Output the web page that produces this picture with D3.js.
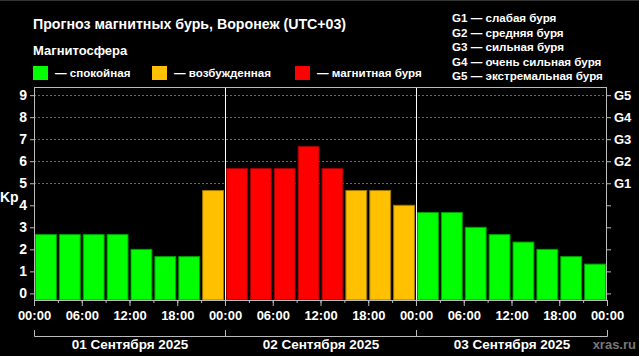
<!DOCTYPE html>
<html><head><meta charset="utf-8">
<script src="https://cdn.jsdelivr.net/npm/d3@7"></script>
<style>
html,body{margin:0;padding:0;background:#000;}
svg{display:block;}
text{font-family:"Liberation Sans",Arial,sans-serif;font-weight:bold;fill:#fff;}
</style></head><body>
<svg id="c" width="639" height="356"></svg>
<script>
const title = "Прогноз магнитных бурь, Воронеж (UTC+03)";
const legendTitle = "Магнитосфера";
const legendLabels = ["— спокойная", "— возбужденная", "— магнитная буря"];
const legendColors = ["#00ff00", "#ffc000", "#ff0000"];
const gLabels = ["G1 — слабая буря", "G2 — средняя буря", "G3 — сильная буря", "G4 — очень сильная буря", "G5 — экстремальная буря"];
const days = ["01 Сентября 2025", "02 Сентября 2025", "03 Сентября 2025"];
const kpValues = [2.67, 2.67, 2.67, 2.67, 2.0, 1.67, 1.67, 4.67,
                  5.67, 5.67, 5.67, 6.67, 5.67, 4.67, 4.67, 4.0,
                  3.67, 3.67, 3.0, 2.67, 2.33, 2.0, 1.67, 1.33];
const yTicks = [0,1,2,3,4,5,6,7,8,9];
const gTicks = ["G1","G2","G3","G4","G5"];

const svg = d3.select("#c");
svg.append("rect").attr("x",0).attr("y",0).attr("width",639).attr("height",356).attr("fill","#000");
svg.append("line").attr("x1",0).attr("x2",639).attr("y1",0.5).attr("y2",0.5).attr("stroke","#333");

const L=34, R=607, T=87, B=300;
const start = new Date(Date.UTC(2025,8,1,0));
const end = new Date(Date.UTC(2025,8,4,0));
const x = d3.scaleUtc().domain([start,end]).range([L,R]);
const y = d3.scaleLinear().domain([-0.3,9.37]).range([B,T]);

function colorFor(v){ return v>=5 ? legendColors[2] : (v>=4 ? legendColors[1] : legendColors[0]); }
function strokeFor(v){ return v>=5 ? "#a00000" : (v>=4 ? "#a07800" : "#00a000"); }

// title
svg.append("text").attr("x",33).attr("y",29).attr("font-size",14.2).text(title);
svg.append("text").attr("x",33).attr("y",55).attr("font-size",13).text(legendTitle);
const legX = [33,152,295];
legendLabels.forEach((lab,i)=>{
  svg.append("rect").attr("x",legX[i]).attr("y",66).attr("width",15).attr("height",14).attr("fill",legendColors[i]);
  svg.append("text").attr("x",legX[i]+22).attr("y",77).attr("font-size",11.6).text(lab);
});
gLabels.forEach((lab,i)=>{
  svg.append("text").attr("x",452).attr("y",22+i*14.6).attr("font-size",11.6).text(lab);
});

// gridlines at G levels
const grid = svg.append("g");
[5,6,7,8,9].forEach(v=>{
  grid.append("line").attr("x1",L).attr("x2",R).attr("y1",Math.round(y(v))+0.5).attr("y2",Math.round(y(v))+0.5)
    .attr("stroke","#666").attr("stroke-dasharray","2,2");
});

// bars
const bars = kpValues.map((v,i)=>({t0:d3.utcHour.offset(start,i*3), t1:d3.utcHour.offset(start,(i+1)*3), v}));
svg.append("g").selectAll("rect").data(bars).enter().append("rect")
  .attr("x",d=>x(d.t0)+1.5).attr("width",d=>x(d.t1)-x(d.t0)-3)
  .attr("y",d=>y(d.v)).attr("height",d=>B-y(d.v))
  .attr("fill",d=>colorFor(d.v)).attr("stroke",d=>strokeFor(d.v)).attr("stroke-width",1);

// day separators
[1,2].forEach(k=>{
  const xx = Math.round(x(d3.utcDay.offset(start,k)))+0.5;
  svg.append("line").attr("x1",xx).attr("x2",xx).attr("y1",T).attr("y2",B).attr("stroke","#fff").attr("stroke-width",1);
});

// frame
svg.append("rect").attr("x",L+0.5).attr("y",T+0.5).attr("width",R-L-1).attr("height",B-T).attr("fill","none").attr("stroke","#bbb");

// left axis
const ya = svg.append("g").attr("transform",`translate(${L},0)`).call(d3.axisLeft(y).tickValues(yTicks).tickSize(4).tickPadding(3).tickFormat(d3.format("d")));
ya.select(".domain").remove();
ya.selectAll("line").attr("stroke","#bbb");
ya.selectAll("text").attr("font-size",14).attr("fill","#fff").style("font-family","Liberation Sans, Arial, sans-serif").style("font-weight","bold");

// right axis
const ra = svg.append("g").attr("transform",`translate(${R},0)`).call(d3.axisRight(y).tickValues(yTicks).tickSize(4).tickPadding(3).tickFormat(d=>d>=5?gTicks[d-5]:""));
ra.select(".domain").remove();
ra.selectAll("line").attr("stroke","#bbb");
ra.selectAll("text").attr("font-size",13).attr("fill","#fff").style("font-family","Liberation Sans, Arial, sans-serif").style("font-weight","bold");

svg.append("text").attr("x",0).attr("y",202).attr("font-size",14).text("Kp");

// bottom axis minor ticks
const minor = svg.append("g").attr("transform",`translate(0,${B})`).call(d3.axisBottom(x).ticks(d3.utcHour.every(3)).tickSize(3).tickFormat(""));
minor.select(".domain").remove(); minor.selectAll("line").attr("stroke","#bbb");
const xa = svg.append("g").attr("transform",`translate(0,${B})`).call(d3.axisBottom(x).ticks(d3.utcHour.every(6)).tickSize(6).tickPadding(5).tickFormat(d3.utcFormat("%H:%M")));
xa.select(".domain").remove();
xa.selectAll("line").attr("stroke","#bbb");
xa.selectAll("text").attr("font-size",13).attr("fill","#fff").style("font-family","Liberation Sans, Arial, sans-serif").style("font-weight","bold");

// day brackets
days.forEach((d,k)=>{
  const x0 = Math.round(x(d3.utcDay.offset(start,k)))+0.5;
  const x1 = Math.round(x(d3.utcDay.offset(start,k+1)))+0.5;
  svg.append("path").attr("d",`M${x0},330V336.5H${x1}V330`).attr("fill","none").attr("stroke","#bbb");
  svg.append("text").attr("x",(x0+x1)/2).attr("y",349).attr("text-anchor","middle").attr("font-size",13.5).text(d);
});

svg.append("text").attr("x",636).attr("y",349).attr("text-anchor","end").attr("font-size",13).style("fill","#777").text("xras.ru");
</script>
</body></html>
